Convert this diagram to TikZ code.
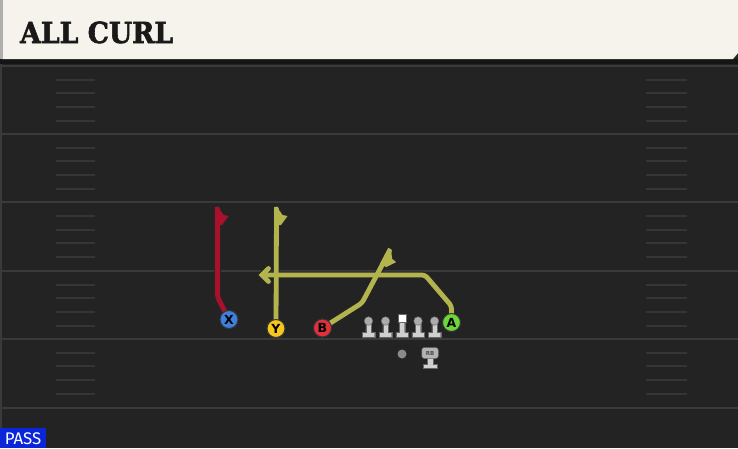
\documentclass[tikz,border=0pt]{standalone}
\usepackage{fontspec}
\setmainfont{DejaVu Sans}
\newfontfamily\titlefont{DejaVu Serif}[BoldFeatures={FakeBold=2.2}]
\newfontfamily\passfont{Fira Sans}
\usetikzlibrary{arrows.meta}
\definecolor{fieldbg}{HTML}{232323}
\definecolor{fieldline}{HTML}{3A3A3A}
\definecolor{hashc}{HTML}{353535}
\definecolor{cream}{HTML}{F6F3EC}
\definecolor{stripc}{HTML}{AEB0AE}
\definecolor{bandc}{HTML}{151515}
\definecolor{routeY}{HTML}{B4B44E}
\definecolor{routeR}{HTML}{A8102C}
\definecolor{pX}{HTML}{3F7FDF}
\definecolor{pY}{HTML}{F5C71E}
\definecolor{pB}{HTML}{E0303A}
\definecolor{pA}{HTML}{6CD63A}
\definecolor{manstem}{HTML}{D0D0D0}
\definecolor{manhead}{HTML}{ABABAB}
\definecolor{qbc}{HTML}{8A8A8A}
\definecolor{passblue}{HTML}{0A26D8}
\tikzset{
  routeout/.style={draw=black!85, line width=6.8pt, line join=round, line cap=round, rounded corners=3pt},
  routein/.style={draw=#1, line width=4.8pt, line join=round, line cap=round, rounded corners=3pt},
  barbshape/.pic={\path[pic actions] (-2.5,0) -- (0.5,0) -- (6,8) -- (11,9) -- (4.5,18) -- (-2.5,18) -- cycle;},
  player/.style={circle, minimum size=18pt, inner sep=0pt, draw=black!80, line width=1pt, fill=#1,
    font=\bfseries\fontsize{12.5}{12.5}\selectfont, text=black},
  manbody/.style={fill=manstem, draw=black!60, line width=0.4pt},
  lineman/.pic={
    \path[manbody] (-2.7,0) -- (-2.7,11.5) -- (-6.2,11.5) -- (-6.2,16.5) -- (6.2,16.5) -- (6.2,11.5) -- (2.7,11.5) -- (2.7,0) -- cycle;
    \fill[manhead, draw=black!60, line width=0.4pt] (0,0) circle (4.3);
  },
  centerman/.pic={
    \path[manbody] (-2.7,0) -- (-2.7,11.5) -- (-6.2,11.5) -- (-6.2,16.5) -- (6.2,16.5) -- (6.2,11.5) -- (2.7,11.5) -- (2.7,0) -- cycle;
    \fill[white, draw=black!60, line width=0.4pt] (-4.2,-7) rectangle (4.2,1.2);
  },
}
\begin{document}
\begin{tikzpicture}[x=1pt, y=-1pt]
\useasboundingbox (0,0) rectangle (738,448);
% field
\fill[fieldbg] (0,0) rectangle (738,448);
\fill[fieldline] (0,59) rectangle (2,448);
\foreach \ly in {65.5,133.5,202,270.5,338.5,408}{
  \draw[fieldline, line width=2pt] (0,\ly) -- (738,\ly);
}
\foreach \ly in {65.5,133.5,202,270.5,338.5}{
  \foreach \off in {14,27.5,41,55}{
    \draw[hashc, line width=2pt] (56,\ly+\off) -- (95,\ly+\off);
    \draw[hashc, line width=2pt] (646,\ly+\off) -- (687,\ly+\off);
  }
}
% header
\fill[bandc] (0,59) rectangle (738,63.5);
\fill[cream] (2,0) -- (738,0) -- (738,53) -- (733,59) -- (2,59) -- cycle;
\fill[stripc] (0,0) rectangle (2.5,59);
\node[anchor=base west, inner sep=0pt, text=black!90] (title) at (20,43)
  {\scalebox{0.92}[1]{\titlefont\bfseries\fontsize{29}{29}\selectfont ALL CURL}};
% PASS tag
\fill[passblue] (0,428) rectangle (46,448);
\node[anchor=base, inner sep=0pt, text=white] (pass) at (23,444.5)
  {\passfont\fontsize{16.8}{16.8}\selectfont PASS};

% players
\node[player=pX] (X) at (229,319.5) {X};
\node[player=pY] (Y) at (276,328.5) {Y};
\node[player=pB] (B) at (322.5,328) {B};
\node[player=pA] (A) at (451.5,322.5) {A};
\coordinate (xbend) at (217.5,297);
\coordinate (xtop) at (217.5,209);
\coordinate (ytop) at (276.5,209);
\coordinate (bbend) at (362,303);
\coordinate (btop) at (389.5,251);
\coordinate (abend1) at (451.5,306);
\coordinate (abend2) at (425,275);
\coordinate (aend) at (262,275);
\coordinate (aarrT) at (268.5,268.5);
\coordinate (aarrB) at (268.5,281.5);

% outlines
\draw[routeout] (X.center) -- (xbend) -- (xtop);
\pic[draw=black!85, fill=black!85, line width=2pt, line join=round] at (217.5,207) {barbshape};
\draw[routeout] (Y.center) -- (ytop);
\pic[draw=black!85, fill=black!85, line width=2pt, line join=round] at (276.5,207) {barbshape};
\draw[routeout] (B.center) -- (bbend) -- (btop);
\pic[draw=black!85, fill=black!85, line width=2pt, line join=round, rotate=-27.4] at (390.5,249) {barbshape};
\draw[routeout] (A.center) -- (abend1) -- (abend2) -- (aend);
\draw[routeout, rounded corners=0pt, line join=miter] (aarrT) -- (aend) -- (aarrB);
% colour
\draw[routein=routeR] (X.center) -- (xbend) -- (xtop);
\pic[fill=routeR] at (217.5,207) {barbshape};
\draw[routein=routeY] (Y.center) -- (ytop);
\pic[fill=routeY] at (276.5,207) {barbshape};
\draw[routein=routeY] (B.center) -- (bbend) -- (btop);
\pic[fill=routeY, rotate=-27.4] at (390.5,249) {barbshape};
\draw[routein=routeY] (A.center) -- (abend1) -- (abend2) -- (aend);
\draw[routein=routeY, rounded corners=0pt, line join=miter] (aarrT) -- (aend) -- (aarrB);

% redraw players on top
\node[player=pX] at (X) {X};
\node[player=pY] at (Y) {Y};
\node[player=pB] at (B) {B};
\node[player=pA] at (A) {A};

% line
\pic at (368.5,321) {lineman};
\pic at (385.5,321) {lineman};
\pic at (402,321) {centerman};
\pic at (418,321) {lineman};
\pic at (434.5,321) {lineman};
% QB
\node[circle, fill=qbc, minimum size=9pt, inner sep=0pt] (qb) at (402,354) {};
% RB
\path[manbody] (427.5,357) -- (427.5,364) -- (423.5,364) -- (423.5,368.5) -- (437,368.5) -- (437,364) -- (433,364) -- (433,357) -- cycle;
\node[rounded corners=2.5pt, fill=manhead!90, draw=black!60, line width=0.5pt, minimum width=16.5pt, minimum height=11pt, inner sep=0pt,
  font=\bfseries\fontsize{5.5}{5.5}\selectfont, text=black!70] (rb) at (430,353) {RB};
\end{tikzpicture}
\end{document}
